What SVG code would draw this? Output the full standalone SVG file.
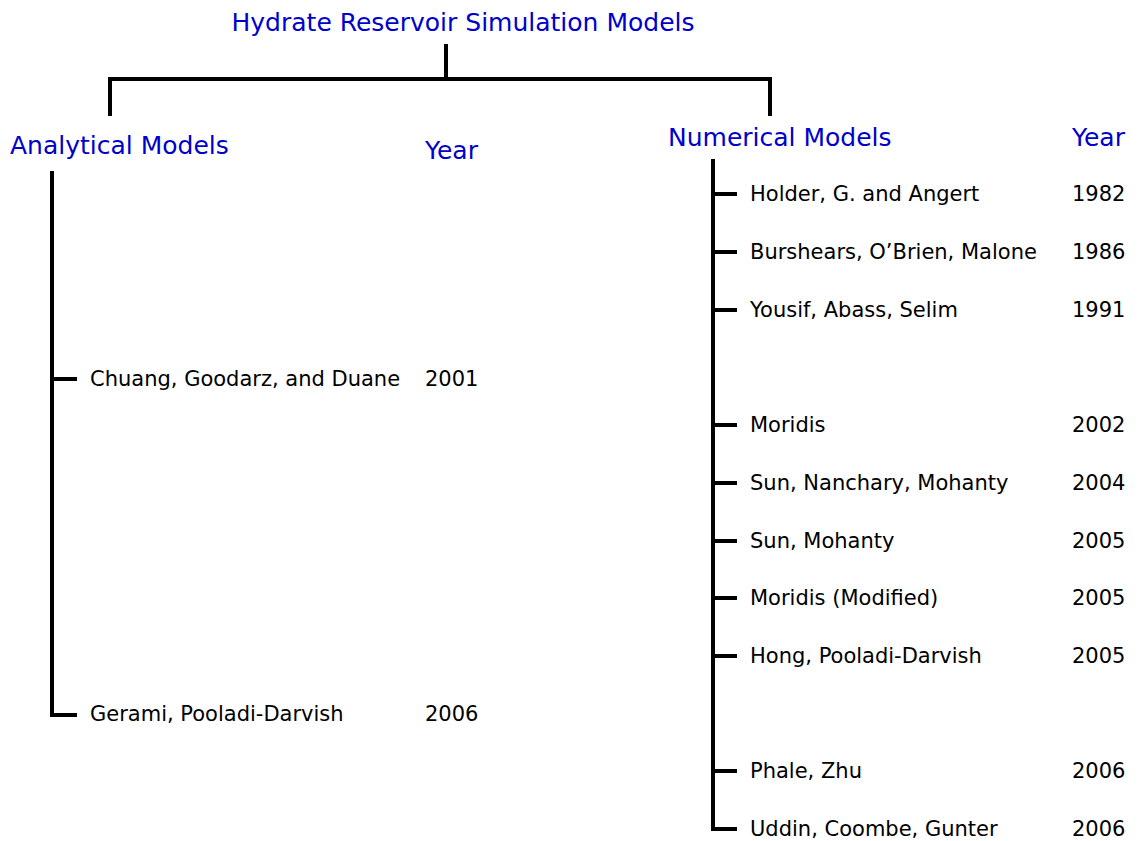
<svg xmlns="http://www.w3.org/2000/svg" width="1140" height="841" viewBox="0 0 1140 841">
<style>
.h{font-family:"Comic Sans MS","DejaVu Sans",sans-serif;fill:#0000cc;font-size:25px}
.t{font-family:"Comic Sans MS","DejaVu Sans",sans-serif;fill:#000;font-size:21px}
.c{stroke:#000;stroke-width:4;fill:none}
</style>
<rect width="1140" height="841" fill="#fff"/>
<g id="connectors">
<path class="c" d="M446,44V79M108,79H772M110,79V116M770,79V116"/>
<path class="c" d="M52,171V715H77M52,379H77"/>
<path class="c" d="M713,159V829H737M713,194H737M713,252H737M713,310H737M713,425H737M713,483H737M713,541H737M713,598H737M713,656H737M713,771H737"/>
</g>
<g id="root"><text class="h" x="463" y="31" text-anchor="middle">Hydrate Reservoir Simulation Models</text></g>
<g id="analytical">
<text class="h" x="10" y="154">Analytical Models</text>
<text class="h" x="425" y="159">Year</text>
</g>
<g id="numerical">
<text class="h" x="668" y="146">Numerical Models</text>
<text class="h" x="1072" y="146">Year</text>
</g>
<g id="a1"><text class="t" x="90" y="386">Chuang, Goodarz, and Duane</text><text class="t" x="425" y="386">2001</text></g>
<g id="a2"><text class="t" x="90" y="721">Gerami, Pooladi-Darvish</text><text class="t" x="425" y="721">2006</text></g>
<g id="n1"><text class="t" x="750" y="201">Holder, G. and Angert</text><text class="t" x="1072" y="201">1982</text></g>
<g id="n2"><text class="t" x="750" y="259">Burshears, O’Brien, Malone</text><text class="t" x="1072" y="259">1986</text></g>
<g id="n3"><text class="t" x="750" y="317">Yousif, Abass, Selim</text><text class="t" x="1072" y="317">1991</text></g>
<g id="n4"><text class="t" x="750" y="432">Moridis</text><text class="t" x="1072" y="432">2002</text></g>
<g id="n5"><text class="t" x="750" y="490">Sun, Nanchary, Mohanty</text><text class="t" x="1072" y="490">2004</text></g>
<g id="n6"><text class="t" x="750" y="548">Sun, Mohanty</text><text class="t" x="1072" y="548">2005</text></g>
<g id="n7"><text class="t" x="750" y="605">Moridis (Modified)</text><text class="t" x="1072" y="605">2005</text></g>
<g id="n8"><text class="t" x="750" y="663">Hong, Pooladi-Darvish</text><text class="t" x="1072" y="663">2005</text></g>
<g id="n9"><text class="t" x="750" y="778">Phale, Zhu</text><text class="t" x="1072" y="778">2006</text></g>
<g id="n10"><text class="t" x="750" y="836">Uddin, Coombe, Gunter</text><text class="t" x="1072" y="836">2006</text></g>
</svg>
